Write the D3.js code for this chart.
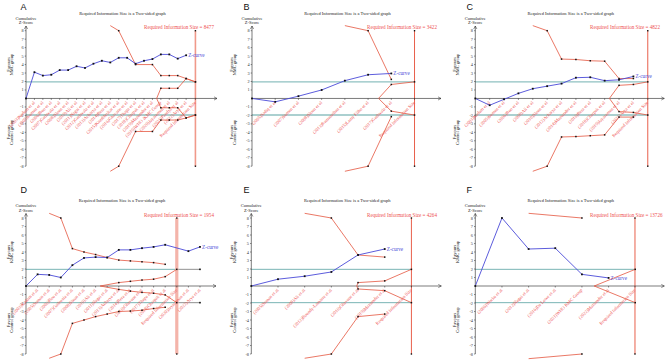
<!DOCTYPE html>
<html><head><meta charset="utf-8">
<script src="https://cdn.jsdelivr.net/npm/d3@7"></script>
<style>body{margin:0;background:#fff}svg{display:block}</style>
</head><body>
<svg id="c" width="669" height="362"></svg>
<script>
// ---------- DATA ----------
const letters = ["A","B","C","D","E","F"];
const risValues = [8477, 3422, 4822, 1954, 4264, 13726];
const risPos = [20.1, 7.0, 12.0, 13.0, 6.0, 5.99];
const favTop = ["NMC group","NMC group","NMC group","KMC group","KMC group","KMC group"];
const yTicks = [8,7,6,5,4,3,2,1,-1,-2,-3,-4,-5,-6,-7,-8];

// Panel A
const posA = [0,1,2,3,4,5,6,7,8,9,10,11,12,13,14,15,16,17,18,19];
const zA = [0,3.1,2.7,2.8,3.35,3.35,3.8,3.6,4.1,4.45,4.25,4.8,4.8,4.1,4.45,4.65,5.2,5.2,4.7,5.1];
const labelsA = ["(2003)Kadam et al","(2005)Suman et al","(2006)Boo et al","(2007)Gathwala et al","(2008)Sloan et al","(2010)Ali et al","(2011)Nagai et al","(2012)Gathwala et al","(2013)Acharya et al","(2014)Bera et al","(2015)Kumbhojkar et al","(2016)Ghavane et al","(2017)Thapa et al","(2018)Charpak et al","(2019)Mazumder et al","(2019)WHO iKMC Group","(2020)Jayaraman et al","(2021)Pandya et al","(2022)Arya et al"];
const upperA = [[10,8.6],[11,8.0],[13,4.0],[15,4.0],[16,2.7],[17,2.7],[18,2.7],[19,2.35],[20.1,1.96]];
const lowerA = [[10,-8.6],[11,-8.0],[13,-3.9],[15,-3.9],[16,-2.55],[17,-2.55],[18,-2.55],[19,-2.3],[20.1,-1.96]];
const innerUpA = [[15.5,0],[16,1.2],[17,1.2],[18,1.2],[19,2.35],[20.1,1.96]];
const innerLoA = [[15.5,0],[16,-1.1],[17,-1.1],[18,-1.1],[19,-2.3],[20.1,-1.96]];

// Panel B
const posB = [0,1,2,3,4,5,6];
const zB = [0,-0.4,0.27,1.0,2.1,2.8,2.95];
const labelsB = ["(2005)Sadiq et al","(2007)Suman et al","(2008)Sloan et al","(2013)Ramanathan et al","(2015)Lamy Filho et al","(2017)Gathwala et al"];
const upperB = [[4,8.6],[5,8.0],[6,2.25]];
const lowerB = [[4,-8.6],[5,-8.0],[6,-2.15]];
const innerUpB = [[5.45,0],[6,1.65],[7,1.96]];
const innerLoB = [[5.45,0],[6,-1.5],[7,-1.96]];

// Panel C
const posC = [0,1,2,3,4,5,6,7,8,9,10,11];
const zC = [0,-0.8,-0.1,0.6,1.15,1.45,1.75,2.45,2.5,2.1,2.2,2.6];
const labelsC = ["(2003)Kadam et al","(2005)Suman et al","(2006)Boo et al","(2008)Ali et al","(2010)Sloan et al","(2012)Acharya et al","(2014)Mazumder et al","(2016)Bera et al","(2018)Charpak et al","(2019)Jayaraman et al","(2021)Arya et al"];
const upperC = [[4,8.6],[5,8.0],[6,4.65],[7,4.6],[8,4.45],[9,4.4],[10,2.35],[11,2.35]];
const lowerC = [[4,-8.6],[5,-8.0],[6,-4.55],[7,-4.5],[8,-4.4],[9,-4.3],[10,-2.2],[11,-2.2]];
const innerUpC = [[9.33,0],[10,1.55],[11,1.65],[12,1.96]];
const innerLoC = [[9.33,0],[10,-1.55],[11,-1.65],[12,-1.96]];

// Panel D
const posD = [0,1,2,3,4,5,6,7,8,9,10,11,12,14,15];
const zD = [0,1.37,1.3,1.0,2.45,3.3,3.4,3.35,4.25,4.25,4.45,4.6,4.85,4.1,4.6];
const labelsD = ["(2003)Kadam et al","(2005)Suman et al","(2006)Boo et al","(2007)Gathwala et al","(2008)Sloan et al","(2010)Ali et al","(2011)Nagai et al","(2013)Acharya et al","(2014)Bera et al","(2016)Ghavane et al","(2017)Thapa et al","(2018)Charpak et al","(2020)Jayaraman et al","(2022)Arya et al"];
const upperD = [[2,8.55],[3,8.0],[4,4.4],[5,4.0],[6,3.7],[7,3.35],[8,3.05],[9,2.95],[10,2.85],[11,2.75],[12,2.55]];
const lowerD = [[2,-8.5],[3,-8.0],[4,-4.4],[5,-4.0],[6,-3.6],[7,-3.3],[8,-3.0],[9,-2.95],[10,-2.85],[11,-2.65],[12,-2.5]];
const innerUpD = [[6.4,0],[8,0.4],[9,0.55],[10,0.7],[11,0.8],[12,1.1],[13,1.96]];
const innerLoD = [[6.4,0],[8,-0.4],[9,-0.6],[10,-0.75],[11,-0.85],[12,-1.05],[13,-1.96]];
const extD = [13, 15];

// Panel E
const posE = [0,1,2,3,4,5];
const zE = [0,0.8,1.15,1.65,3.65,4.35];
const labelsE = ["(2005)Suman et al","(2008)Ali et al","(2012)Boundy-Lamarre et al","(2016)Ghavane et al","(2019)Mazumder et al"];
const upperE = [[2,8.55],[3,8.0],[4,3.65],[5,3.4]];
const lowerE = [[2,-8.5],[3,-8.0],[4,-3.6],[5,-3.3]];
const innerUpE = [[3.95,0],[4,0.4],[5,0.6],[6,1.96]];
const innerLoE = [[3.95,0],[4,-0.35],[5,-0.55],[6,-1.96]];

// Panel F
const posF = [0,1,2,3,4,5];
const zF = [0,8.0,4.35,4.45,1.37,0.95];
const labelsF = ["(2006)Worku et al","(2012)Nagai et al","(2016)Da Lowe et al","(2021)WHO KMC Group","(2022)Mazumder et al"];
const upperF = [[2,8.55],[4,8.0]];
const lowerF = [[2,-8.55],[4,-8.0]];
const innerUpF = [[4.46,0],[6,1.96]];
const innerLoF = [[4.46,0],[6,-1.96]];

// ---------- LAYOUT ----------
const rowTop = {top:30.7, bot:166.2, letter:9.5, title:14.8, cum1:19.8, cum2:24.2, ris:28.7, arrowTop:26};
const rowBot = {top:38, bot:174, letter:12.5, title:21.5, cum1:27.3, cum2:31.5, ris:36.5, arrowTop:33.5};

const panels = [
 {ox:0,   oy:0,   ax:26,   ex:217,   xmax:22.66, row:rowTop, risW:1.6, risC:"#f0998a", pos:posA, z:zA, labels:labelsA, up:upperA, lo:lowerA, iu:innerUpA, il:innerLoA},
 {ox:223, oy:0,   ax:29,   ex:218,   xmax:8.14,  row:rowTop, risW:1.0, risC:"#e8604c", pos:posB, z:zB, labels:labelsB, up:upperB, lo:lowerB, iu:innerUpB, il:innerLoB},
 {ox:446, oy:0,   ax:29.3, ex:218.3, xmax:13.15, row:rowTop, risW:1.0, risC:"#e8604c", pos:posC, z:zC, labels:labelsC, up:upperC, lo:lowerC, iu:innerUpC, il:innerLoC},
 {ox:0,   oy:180, ax:26,   ex:216,   xmax:16.38, row:rowBot, risW:3.2, risC:"#f4b4aa", pos:posD, z:zD, labels:labelsD, up:upperD, lo:lowerD, iu:innerUpD, il:innerLoD, ext:extD, skipAt:13},
 {ox:223, oy:180, ax:28.3, ex:218.3, xmax:7.12,  row:rowBot, risW:1.0, risC:"#e8604c", pos:posE, z:zE, labels:labelsE, up:upperE, lo:lowerE, iu:innerUpE, il:innerLoE},
 {ox:446, oy:180, ax:29.3, ex:218.3, xmax:7.09,  row:rowBot, risW:1.0, risC:"#e8604c", pos:posF, z:zF, labels:labelsF, up:upperF, lo:lowerF, iu:innerUpF, il:innerLoF}
];

const serif = "'Liberation Serif','Times New Roman',serif";
const RED = "#e5553f", TXT_RED = "#ee5252", BLUE = "#4a4ad8", TEAL = "#6aadad";
const svg = d3.select("#c");

panels.forEach((p, i) => {
  const r = p.row;
  const g = svg.append("g").attr("transform", `translate(${p.ox},${p.oy})`);
  const x = d3.scaleLinear().domain([0, p.xmax]).range([p.ax, p.ex]);
  const y = d3.scaleLinear().domain([-8, 8]).range([r.bot, r.top]);
  const y0 = y(0);
  const ris = risPos[i];
  const line = d3.line().x(d => x(d[0])).y(d => y(d[1]));

  // panel letter
  g.append("text").attr("x", 20.5).attr("y", r.letter).text(letters[i])
    .attr("font-family", "'Liberation Sans',Arial,sans-serif").attr("font-size", 9).attr("fill", "#111");
  // title
  g.append("text").attr("x", (p.ax + p.ex) / 2 + 1).attr("y", r.title).attr("text-anchor", "middle")
    .attr("font-family", serif).attr("font-size", 4.5).attr("fill", "#222")
    .text("Required Information Size is a Two-sided graph");
  // Cumulative Z-Score
  g.append("text").attr("x", p.ax).attr("y", r.cum1).attr("text-anchor", "middle")
    .attr("font-family", serif).attr("font-size", 4.5).attr("fill", "#222").text("Cumulative");
  g.append("text").attr("x", p.ax).attr("y", r.cum2).attr("text-anchor", "middle")
    .attr("font-family", serif).attr("font-size", 4.5).attr("fill", "#222").text("Z-Score");

  // rotated y titles
  const yt = [[y(4), "Favours", favTop[i]], [y(-4), "Favours", "Control group"]];
  yt.forEach(t => {
    [[9.8, t[1]], [13, t[2]]].forEach(l => {
      g.append("text").attr("transform", `translate(${l[0]},${t[0]}) rotate(-90)`)
        .attr("text-anchor", "middle").attr("font-family", serif).attr("font-size", 4.5)
        .attr("fill", "#222").text(l[1]);
    });
  });

  // teal lines at +-1.96
  [1.96, -1.96].forEach(v => {
    g.append("line").attr("x1", x(0)).attr("x2", x(ris)).attr("y1", y(v)).attr("y2", y(v))
      .attr("stroke", TEAL).attr("stroke-width", p.row === rowTop ? 1.4 : 0.9).attr("opacity", p.row === rowTop ? 0.75 : 1);
  });
  if (p.ext) {
    [1.96, -1.96].forEach(v => {
      g.append("line").attr("x1", x(p.ext[0])).attr("x2", x(p.ext[1])).attr("y1", y(v)).attr("y2", y(v))
        .attr("stroke", "#222").attr("stroke-width", 0.5);
      g.append("rect").attr("x", x(p.ext[1]) - 0.8).attr("y", y(v) - 0.8).attr("width", 1.6).attr("height", 1.6).attr("fill", "#111");
    });
  }

  // RIS vertical line
  g.append("line").attr("x1", x(ris)).attr("x2", x(ris)).attr("y1", y(8)).attr("y2", y(-8))
    .attr("stroke", p.risC).attr("stroke-width", p.risW);
  [8, -8].forEach(v => g.append("rect").attr("x", x(ris) - 0.7).attr("y", y(v) - 0.7)
    .attr("width", 1.4).attr("height", 1.4).attr("fill", "#111"));
  g.append("text").attr("x", 144).attr("y", r.ris).attr("font-family", serif).attr("font-size", 5.1)
    .attr("fill", TXT_RED).text("Required Information Size = " + risValues[i]);

  // axes
  g.append("line").attr("x1", p.ax).attr("x2", p.ex).attr("y1", y0).attr("y2", y0).attr("stroke", "#222").attr("stroke-width", 0.6);
  g.append("path").attr("d", `M${p.ex - 3},${y0 - 1.6}L${p.ex},${y0}L${p.ex - 3},${y0 + 1.6}`)
    .attr("fill", "none").attr("stroke", "#222").attr("stroke-width", 0.5);
  g.append("line").attr("x1", p.ax).attr("x2", p.ax).attr("y1", y(-8)).attr("y2", r.arrowTop).attr("stroke", "#222").attr("stroke-width", 0.6);
  g.append("path").attr("d", `M${p.ax - 1.6},${r.arrowTop + 3}L${p.ax},${r.arrowTop}L${p.ax + 1.6},${r.arrowTop + 3}`)
    .attr("fill", "none").attr("stroke", "#222").attr("stroke-width", 0.5);

  // y ticks
  yTicks.forEach(t => {
    g.append("line").attr("x1", p.ax - 1.3).attr("x2", p.ax).attr("y1", y(t)).attr("y2", y(t)).attr("stroke", "#222").attr("stroke-width", 0.5);
    g.append("text").attr("x", p.ax - 2.3).attr("y", y(t)).attr("dy", "0.35em").attr("text-anchor", "end")
      .attr("font-family", serif).attr("font-size", 4.3).attr("fill", "#333").text(t);
  });

  // x ticks and study labels
  const studyPos = p.pos.slice(1);
  studyPos.forEach((s, k) => {
    g.append("line").attr("x1", x(s)).attr("x2", x(s)).attr("y1", y0).attr("y2", y0 + 1.5).attr("stroke", "#222").attr("stroke-width", 0.5);
    g.append("text").attr("transform", `translate(${x(s) + 0.8},${y0 + 4.5}) rotate(-45)`)
      .attr("text-anchor", "end").attr("font-family", serif).attr("font-size", 4.6).attr("fill", TXT_RED)
      .text(p.labels[k]);
  });
  g.append("line").attr("x1", x(ris)).attr("x2", x(ris)).attr("y1", y0).attr("y2", y0 + 1.5).attr("stroke", "#222").attr("stroke-width", 0.5);
  g.append("text").attr("transform", `translate(${x(ris) + 0.8},${y0 + 4.5}) rotate(-45)`)
    .attr("text-anchor", "end").attr("font-family", serif).attr("font-size", 4.6).attr("fill", TXT_RED)
    .text("Required Information Size");

  // boundaries
  [p.up, p.lo, p.iu, p.il].forEach(b => {
    g.append("path").attr("d", line(b)).attr("fill", "none").attr("stroke", RED).attr("stroke-width", 0.8);
    b.forEach((d, k) => {
      if (Math.abs(d[1]) > 8.05 || (d[1] === 0)) return;
      g.append("rect").attr("x", x(d[0]) - 0.75).attr("y", y(d[1]) - 0.75).attr("width", 1.5).attr("height", 1.5).attr("fill", "#111");
    });
  });

  // z-curve
  const zpts = p.pos.map((s, k) => [s, p.z[k]]);
  g.append("path").attr("d", line(zpts)).attr("fill", "none").attr("stroke", BLUE).attr("stroke-width", 0.9);
  zpts.forEach(d => g.append("rect").attr("x", x(d[0]) - 0.9).attr("y", y(d[1]) - 0.9)
    .attr("width", 1.8).attr("height", 1.8).attr("fill", "#111"));
  const last = zpts[zpts.length - 1];
  g.append("text").attr("x", x(last[0]) + 2).attr("y", y(last[1]) + 1.6).attr("font-family", serif)
    .attr("font-size", 5.2).attr("fill", BLUE).text("Z-curve");
});
</script>
</body></html>
